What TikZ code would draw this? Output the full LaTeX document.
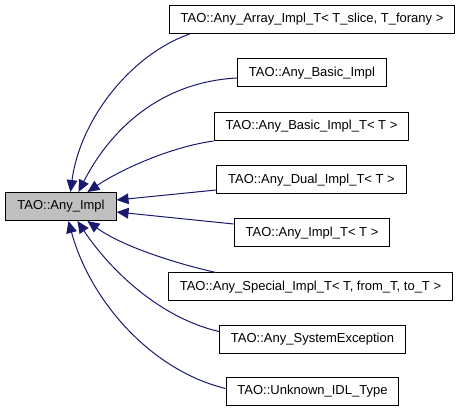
\documentclass[tikz,border=0pt]{standalone}
\usepackage{fontspec}
\setmainfont{Liberation Sans}
\usetikzlibrary{arrows.meta,calc}
\definecolor{edgeblue}{HTML}{191970}
\definecolor{basegray}{HTML}{BFBFBF}
\tikzset{
  cls/.style={draw=black, line width=0.75pt, fill=white, minimum height=21pt,
    inner xsep=8.6pt, inner ysep=0pt, font=\fontsize{9.75pt}{11pt}\selectfont, anchor=center},
  basecls/.style={cls, fill=basegray},
  inh/.style={draw=edgeblue, line width=0.75pt,
    {Triangle[length=9pt,width=8pt]}-},
}
\begin{document}
\begin{tikzpicture}[x=0.75pt,y=-0.75pt]
\useasboundingbox (0,0) rectangle (464,413);
\node[basecls] (base) at (61,206.5) {TAO::Any\_Impl};
\node[cls] (arr) at (312,19.5) {TAO::Any\_Array\_Impl\_T< T\_slice, T\_forany >};
\node[cls] (bas) at (312,73) {TAO::Any\_Basic\_Impl};
\node[cls] (bat) at (311.5,126.5) {TAO::Any\_Basic\_Impl\_T< T >};
\node[cls] (dua) at (311.5,180) {TAO::Any\_Dual\_Impl\_T< T >};
\node[cls] (imt) at (312,233) {TAO::Any\_Impl\_T< T >};
\node[cls] (spe) at (310.5,287) {TAO::Any\_Special\_Impl\_T< T, from\_T, to\_T >};
\node[cls] (sys) at (312.5,339.5) {TAO::Any\_SystemException};
\node[cls] (unk) at (312.5,391.5) {TAO::Unknown\_IDL\_Type};

\draw[inh] ($(base.north west)+(65,0)$) .. controls (80,120) and (130,55) .. ($(arr.south west)+(21,0)$);
\draw[inh] ($(base.north west)+(73,0)$) .. controls (110,130) and (160,82) .. ($(bas.west)+(0,5)$);
\draw[inh] ($(base.north west)+(82,0)$) .. controls (120,170) and (170,147) .. (bat.south west);
\draw[inh] ($(base.north east)+(0,8)$) -- ($(dua.west)+(0,10)$);
\draw[inh] ($(base.north east)+(0,20)$) -- ($(imt.west)+(0,-9)$);
\draw[inh] ($(base.south west)+(82,0)$) .. controls (120,245) and (170,262) .. ($(spe.north west)+(48,0)$);
\draw[inh] ($(base.south west)+(72,0)$) .. controls (110,270) and (160,318) .. ($(sys.west)+(0,-8)$);
\draw[inh] ($(base.south west)+(63,0)$) .. controls (90,300) and (150,370) .. ($(unk.west)+(0,-3)$);
\end{tikzpicture}
\end{document}
